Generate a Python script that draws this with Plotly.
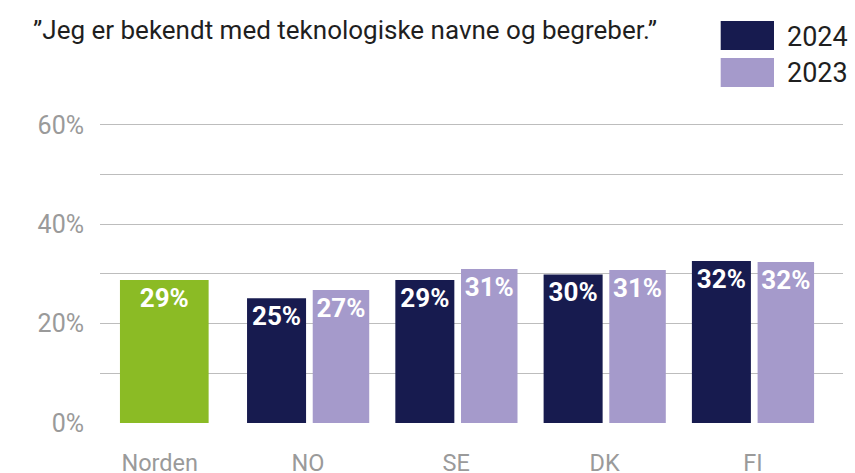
import plotly.graph_objects as go

# ---- data ----
categories = ["Norden", "NO", "SE", "DK", "FI"]
countries = ["NO", "SE", "DK", "FI"]
norden_value = [28.8]
norden_label = [29]
values_2024 = [25.1, 28.8, 29.9, 32.6]
labels_2024 = [25, 29, 30, 32]
values_2023 = [26.8, 31.0, 30.8, 32.4]
labels_2023 = [27, 31, 31, 32]
y_tickvals = [0, 10, 20, 30, 40, 50, 60]
y_ticktext = ["0%", "", "20%", "", "40%", "", "60%"]
title_text = "”Jeg er bekendt med teknologiske navne og begreber.”"
series_names = ["2024", "2023"]

# ---- style ----
C_GREEN = "#8BBB25"
C_NAVY = "#171B4F"
C_LAV = "#A59ACB"
FONT = "Roboto"

# plot area: left 100, right 843, y=0 at 423px, 60 at 125px
T, B = 123, 50
PH = 473 - T - B


def px_to_paper_y(py):
    return (473 - B - py) / PH


def px_to_paper_x(px):
    return (px - 100) / 743


fig = go.Figure()

label_font = dict(family=FONT, size=26, color="white", weight="bold")

fig.add_trace(go.Bar(
    x=["Norden"], y=norden_value,
    text=[f"{v}%" for v in norden_label],
    marker=dict(color=C_GREEN, line=dict(width=0)),
    width=0.598, offset=-0.268,
    textposition="inside", insidetextanchor="end", textangle=0,
    textfont=label_font, showlegend=False, hoverinfo="skip",
))
fig.add_trace(go.Bar(
    x=countries, y=values_2024, name=series_names[0],
    text=[f"{v}%" for v in labels_2024],
    marker=dict(color=C_NAVY, line=dict(width=0)),
    width=0.398, offset=-0.411,
    textposition="inside", insidetextanchor="end", textangle=0,
    textfont=label_font, showlegend=False,
))
fig.add_trace(go.Bar(
    x=countries, y=values_2023, name=series_names[1],
    text=[f"{v}%" for v in labels_2023],
    marker=dict(color=C_LAV, line=dict(width=0)),
    width=0.381, offset=0.032,
    textposition="inside", insidetextanchor="end", textangle=0,
    textfont=label_font, showlegend=False,
))

fig.update_layout(
    width=855, height=473,
    margin=dict(l=100, r=12, t=T, b=B, autoexpand=False),
    paper_bgcolor="white", plot_bgcolor="white",
    barmode="overlay",
    font=dict(family=FONT),
    title=dict(
        text=title_text, xref="container", yref="container",
        x=33 / 855, xanchor="left", y=1 - 30 / 473, yanchor="middle",
        font=dict(family=FONT, size=26, color="#1f1f1f"),
    ),
    xaxis=dict(
        type="category", categoryorder="array", categoryarray=categories,
        range=[-0.4026, 4.608], automargin=False,
        showgrid=False, zeroline=False, showline=False, ticks="",
        tickfont=dict(family=FONT, size=23.5, color="#9a9a9a"),
        ticklabelstandoff=23,
    ),
    yaxis=dict(
        range=[0, 60.4], tickvals=y_tickvals, ticktext=y_ticktext,
        automargin=False,
        showgrid=True, gridcolor="#bdbdbd", gridwidth=1,
        zeroline=False, showline=False, ticks="",
        tickfont=dict(family=FONT, size=25, color="#9a9a9a"),
        ticklabelstandoff=15,
    ),
)

# legend drawn as boxes + labels
legend_items = [(series_names[0], C_NAVY, 21, 50), (series_names[1], C_LAV, 58, 87)]
for name, col, ytop, ybot in legend_items:
    fig.add_shape(
        type="rect", xref="paper", yref="paper",
        x0=px_to_paper_x(720.7), x1=px_to_paper_x(774),
        y0=px_to_paper_y(ybot), y1=px_to_paper_y(ytop),
        fillcolor=col, line=dict(width=0),
    )
    fig.add_annotation(
        text=name, xref="paper", yref="paper",
        x=px_to_paper_x(785), xanchor="left",
        y=px_to_paper_y((ytop + ybot) / 2 + 1), yanchor="middle",
        showarrow=False, font=dict(family=FONT, size=27, color="#1f1f1f"),
    )

fig.write_html(
    "out.html",
    config={"displayModeBar": False},
    post_script="document.body.style.margin='0px';document.body.style.overflow='hidden';",
)
